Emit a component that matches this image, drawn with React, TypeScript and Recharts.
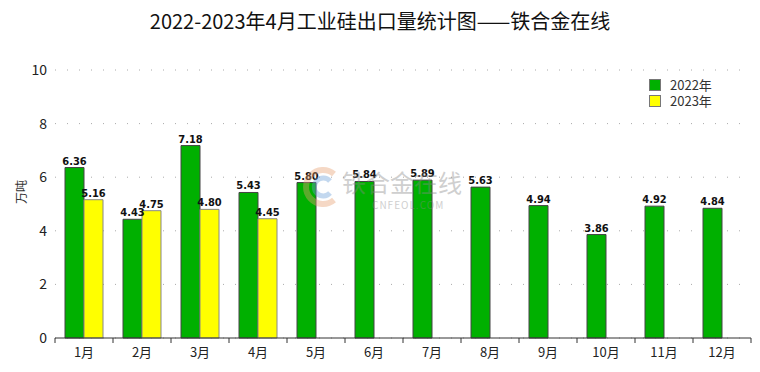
import React from 'react';
import { BarChart, Bar, XAxis, YAxis, CartesianGrid, LabelList } from 'recharts';

const months = ['1月', '2月', '3月', '4月', '5月', '6月', '7月', '8月', '9月', '10月', '11月', '12月'];
const export2022 = [6.36, 4.43, 7.18, 5.43, 5.8, 5.84, 5.89, 5.63, 4.94, 3.86, 4.92, 4.84];
const export2023: (number | null)[] = [5.16, 4.75, 4.8, 4.45, null, null, null, null, null, null, null, null];
const yTicks = [0, 2, 4, 6, 8, 10];

const data = months.map((m, i) => ({ month: m, y2022: export2022[i], y2023: export2023[i] }));

const GREEN = '#00b000';
const YELLOW = '#ffff00';
const FONT = '"Noto Sans CJK SC", "Noto Sans", sans-serif';

const fmt = (v: any) => (v == null ? '' : Number(v).toFixed(2));

const MonthTick = (props: any) => {
  const { x, y, payload, index } = props;
  const half = payload && payload.offset ? payload.offset : 29;
  return (
    <g>
      <line x1={x - half} x2={x - half} y1={y - 8} y2={y - 3} stroke="#333" />
      {index === months.length - 1 && (
        <line x1={x + half} x2={x + half} y1={y - 8} y2={y - 3} stroke="#333" />
      )}
      <text x={x} y={y + 11} textAnchor="middle" fontSize={13} fill="#222" fontFamily={FONT}>
        {payload.value}
      </text>
    </g>
  );
};

const legendItems = [
  { name: '2022年', color: GREEN },
  { name: '2023年', color: YELLOW },
];

export default function App() {
  return (
    <div style={{ position: 'absolute', left: 0, top: 0, width: 760, height: 372, background: '#fff' }}>
      <div
        style={{
          position: 'absolute',
          top: 6,
          width: 760,
          textAlign: 'center',
          fontFamily: FONT,
          fontSize: 20,
          color: '#111',
        }}
      >
        2022-2023年4月工业硅出口量统计图——铁合金在线
      </div>
      <BarChart
        width={760}
        height={372}
        data={data}
        margin={{ top: 70, right: 9, left: 0, bottom: 0 }}
        barCategoryGap={10}
        barGap={0}
      >
        <CartesianGrid vertical={false} stroke="#aaa" strokeDasharray="1 11" />
        <XAxis
          dataKey="month"
          height={34}
          axisLine={{ stroke: '#333' }}
          tickLine={false}
          interval={0}
          tick={<MonthTick />}
        />
        <YAxis
          width={55}
          domain={[0, 10]}
          ticks={yTicks}
          axisLine={false}
          tickLine={false}
          tick={{ fontSize: 14, fill: '#222', fontFamily: FONT }}
          label={{ value: '万吨', angle: -90, position: 'insideLeft', offset: 22, fontSize: 12, fill: '#333', fontFamily: FONT }}
        />
        <Bar dataKey="y2022" name="2022年" fill={GREEN} stroke="#444" strokeWidth={1} isAnimationActive={false}>
          <LabelList dataKey="y2022" position="top" offset={3} formatter={fmt} fontSize={11} fontWeight="bold" fill="#111" fontFamily="DejaVu Sans Condensed, DejaVu Sans" />
        </Bar>
        <Bar dataKey="y2023" name="2023年" fill={YELLOW} stroke="#888" strokeWidth={1} isAnimationActive={false}>
          <LabelList dataKey="y2023" position="top" offset={3} formatter={fmt} fontSize={11} fontWeight="bold" fill="#111" fontFamily="DejaVu Sans Condensed, DejaVu Sans" />
        </Bar>
      </BarChart>
      <div style={{ position: 'absolute', left: 649, top: 77, fontFamily: FONT, fontSize: 13, color: '#333' }}>
        {legendItems.map((s) => (
          <div key={s.name} style={{ display: 'flex', alignItems: 'center', height: 16 }}>
            <span style={{ width: 10, height: 10, background: s.color, border: '1px solid #777', marginRight: 9 }} />
            <span style={{ display: 'block', height: 16, lineHeight: '16px', overflow: 'visible' }}>{s.name}</span>
          </div>
        ))}
      </div>
      <div style={{ position: 'absolute', left: 300, top: 164, pointerEvents: 'none', opacity: 0.4 }}>
        <svg width={40} height={46} style={{ position: 'absolute', left: 0, top: 0 }}>
          <path d="M 34 10 A 17 17 0 1 0 34 36" fill="none" stroke="#e8a070" strokeWidth={6} />
          <path d="M 30 17 A 9 9 0 1 0 30 29" fill="none" stroke="#6a9fd8" strokeWidth={5} />
        </svg>
        <div style={{ position: 'absolute', left: 42, top: 0, fontFamily: FONT, fontSize: 24, color: '#888', whiteSpace: 'nowrap' }}>
          铁合金在线
        </div>
        <div style={{ position: 'absolute', left: 72, top: 33, fontFamily: FONT, fontSize: 10, color: '#888', whiteSpace: 'nowrap', letterSpacing: 1 }}>
          CNFEOL.COM
        </div>
      </div>
    </div>
  );
}
